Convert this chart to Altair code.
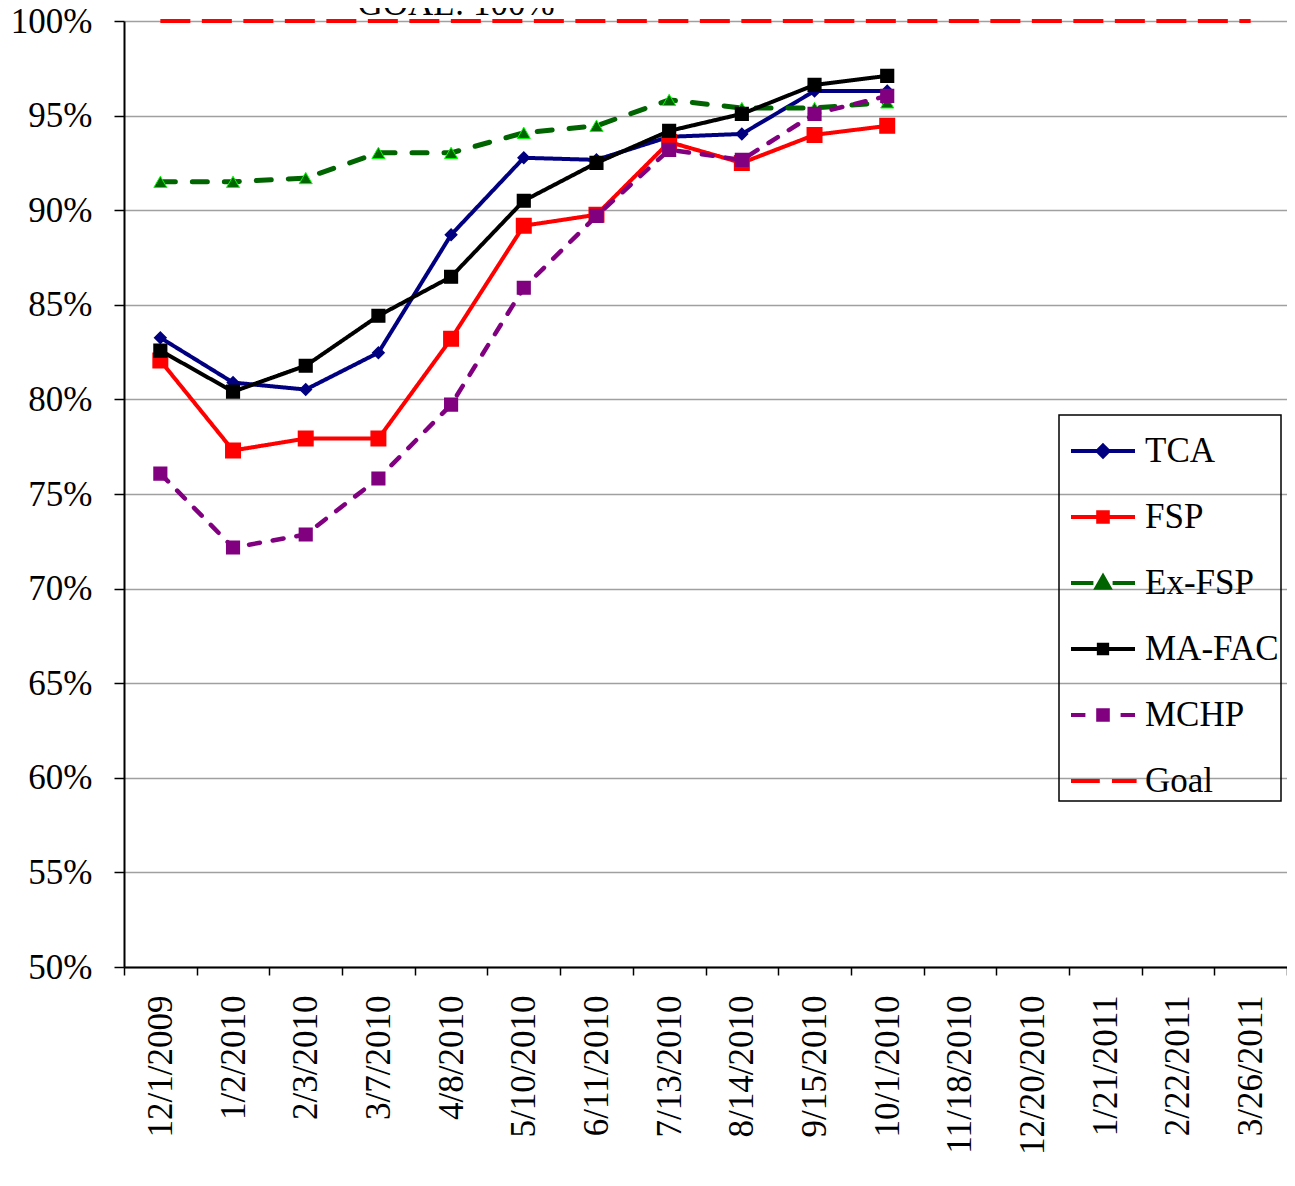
import altair as alt
import pandas as pd

categories = ["12/1/2009", "1/2/2010", "2/3/2010", "3/7/2010", "4/8/2010", "5/10/2010",
              "6/11/2010", "7/13/2010", "8/14/2010", "9/15/2010", "10/1/2010", "11/18/2010",
              "12/20/2010", "1/21/2011", "2/22/2011", "3/26/2011"]

tca = [83.26, 80.89, 80.52, 82.47, 88.7, 92.77, 92.66, 93.88, 94.03, 96.3, 96.3]
fsp = [82.05, 77.3, 77.93, 77.93, 83.2, 89.18, 89.76, 93.6, 92.5, 93.98, 94.46]
ex_fsp = [91.5, 91.5, 91.7, 93.03, 93.03, 94.09, 94.46, 95.83, 95.4, 95.4, 95.7]
ma_fac = [82.58, 80.41, 81.78, 84.42, 86.48, 90.5, 92.5, 94.19, 95.09, 96.62, 97.1]
mchp = [76.08, 72.17, 72.86, 75.82, 79.72, 85.9, 89.7, 93.19, 92.66, 95.09, 96.04]
goal = [100] * 16

series_names = ["TCA", "FSP", "Ex-FSP", "MA-FAC", "MCHP", "Goal"]
y_ticks = [50, 55, 60, 65, 70, 75, 80, 85, 90, 95, 100]
goal_text = "GOAL: 100%"

FONT = "Liberation Serif"
FS = 35

styles = {
    "TCA":    dict(color="#000080", dash=[1, 0], width=4, cap="round", shape="diamond", size=130, fill="#000080", stroke="#000080", sw=1.5),
    "FSP":    dict(color="#FF0000", dash=[1, 0], width=4, cap="round", shape="square", size=210, fill="#FF0000", stroke="#FF0000", sw=1.5),
    "Ex-FSP": dict(color="#006400", dash=[15, 17], width=5, cap="round", shape="triangle-up", size=170, fill="#006400", stroke="#00FF00", sw=1),
    "MA-FAC": dict(color="#000000", dash=[1, 0], width=4, cap="round", shape="square", size=160, fill="#000000", stroke="#000000", sw=1.5),
    "MCHP":   dict(color="#800080", dash=[11, 13], width=4.5, cap="round", shape="square", size=160, fill="#800080", stroke="#800080", sw=1.5),
}
values = {"TCA": tca, "FSP": fsp, "Ex-FSP": ex_fsp, "MA-FAC": ma_fac, "MCHP": mchp}

x_enc = alt.X("cat:N", sort=categories,
              scale=alt.Scale(type="band", domain=categories, paddingInner=0, paddingOuter=0),
              axis=alt.Axis(title=None, labelAngle=-90, labelFont=FONT, labelFontSize=FS,
                            labelColor="black", tickBand="extent", tickSize=8, tickWidth=1.5,
                            tickColor="black", domainColor="black", domainWidth=2,
                            labelPadding=20, grid=False, labelLimit=400))
y_enc = alt.Y("v:Q", scale=alt.Scale(domain=[0.5, 1.0], nice=False, zero=False),
              axis=alt.Axis(title=None, values=[t / 100 for t in y_ticks], format=".0%",
                            labelFont=FONT, labelFontSize=FS, labelColor="black",
                            tickSize=10, tickWidth=1.5, tickColor="black",
                            domainColor="black", domainWidth=2, labelPadding=22,
                            grid=True, gridColor="#A0A0A0", gridWidth=1.5))

layers = []

goal_df = pd.DataFrame({"cat": categories, "v": [g / 100 for g in goal]})
layers.append(alt.Chart(goal_df).mark_line(color="#FF0000", strokeWidth=4, strokeDash=[30, 11.5])
              .encode(x=x_enc, y=y_enc))

for name in ["TCA", "FSP", "Ex-FSP", "MA-FAC", "MCHP"]:
    s = styles[name]
    vals = values[name]
    df = pd.DataFrame({"cat": categories[:len(vals)], "v": [v / 100 for v in vals]})
    layers.append(alt.Chart(df).mark_line(color=s["color"], strokeWidth=s["width"],
                                          strokeDash=s["dash"], strokeCap=s["cap"],
                                          strokeJoin="round")
                  .encode(x=x_enc, y=y_enc))
    layers.append(alt.Chart(df).mark_point(shape=s["shape"], size=s["size"], filled=True,
                                           fill=s["fill"], stroke=s["stroke"], strokeWidth=s["sw"],
                                           opacity=1)
                  .encode(x=x_enc, y=y_enc))

text_df = pd.DataFrame({"cat": ["4/8/2010"], "v": [1.0], "t": [goal_text]})
layers.append(alt.Chart(text_df).mark_text(font=FONT, fontSize=FS, color="black",
                                           baseline="alphabetic", align="center", dx=5, dy=-6)
              .encode(x=x_enc, y=y_enc, text="t:N"))

legend_paths = [
    "M-1,0H1M0,-0.17L0.17,0L0,0.17L-0.17,0Z",
    "M-1,0H1M-0.15,-0.15H0.15V0.15H-0.15Z",
    "M-1,0H-0.3M0.3,0H1M0,-0.2L0.2,0.15L-0.2,0.15Z",
    "M-1,0H1M-0.13,-0.13H0.13V0.13H-0.13Z",
    "M-1,0H-0.55M0.55,0H1M-0.15,-0.15H0.15V0.15H-0.15Z",
    "M-1,0H-0.1M0.28,0H1.05",
]
legend_fill = ["#000080", "#FF0000", "#006400", "#000000", "#800080", "#FF0000"]
legend_stroke = ["#000080", "#FF0000", "#006400", "#000000", "#800080", "#FF0000"]

leg = alt.Legend(title=None, orient="none", legendX=935, legendY=394, symbolSize=4096,
                 symbolStrokeWidth=4, labelFont=FONT, labelFontSize=FS, labelColor="black",
                 padding=2, rowPadding=14, strokeColor="black", symbolOffset=8,
                 labelOffset=8, labelLimit=400)

legend_df = pd.DataFrame({"series": series_names})
layers.append(alt.Chart(legend_df).transform_filter("false").mark_point(filled=True, opacity=1)
              .encode(shape=alt.Shape("series:N", scale=alt.Scale(domain=series_names, range=legend_paths), legend=leg),
                      fill=alt.Fill("series:N", scale=alt.Scale(domain=series_names, range=legend_fill), legend=leg),
                      stroke=alt.Stroke("series:N", scale=alt.Scale(domain=series_names, range=legend_stroke), legend=leg)))

chart = alt.layer(*layers).properties(
    width=1163, height=946,
    autosize=alt.AutoSizeParams(type="none"),
    padding={"left": 116, "top": 13, "right": 0, "bottom": 200},
).configure_view(stroke=None).configure_legend(strokeWidth=1.5)

chart.save("out.html", embed_options={"renderer": "svg", "actions": False})
